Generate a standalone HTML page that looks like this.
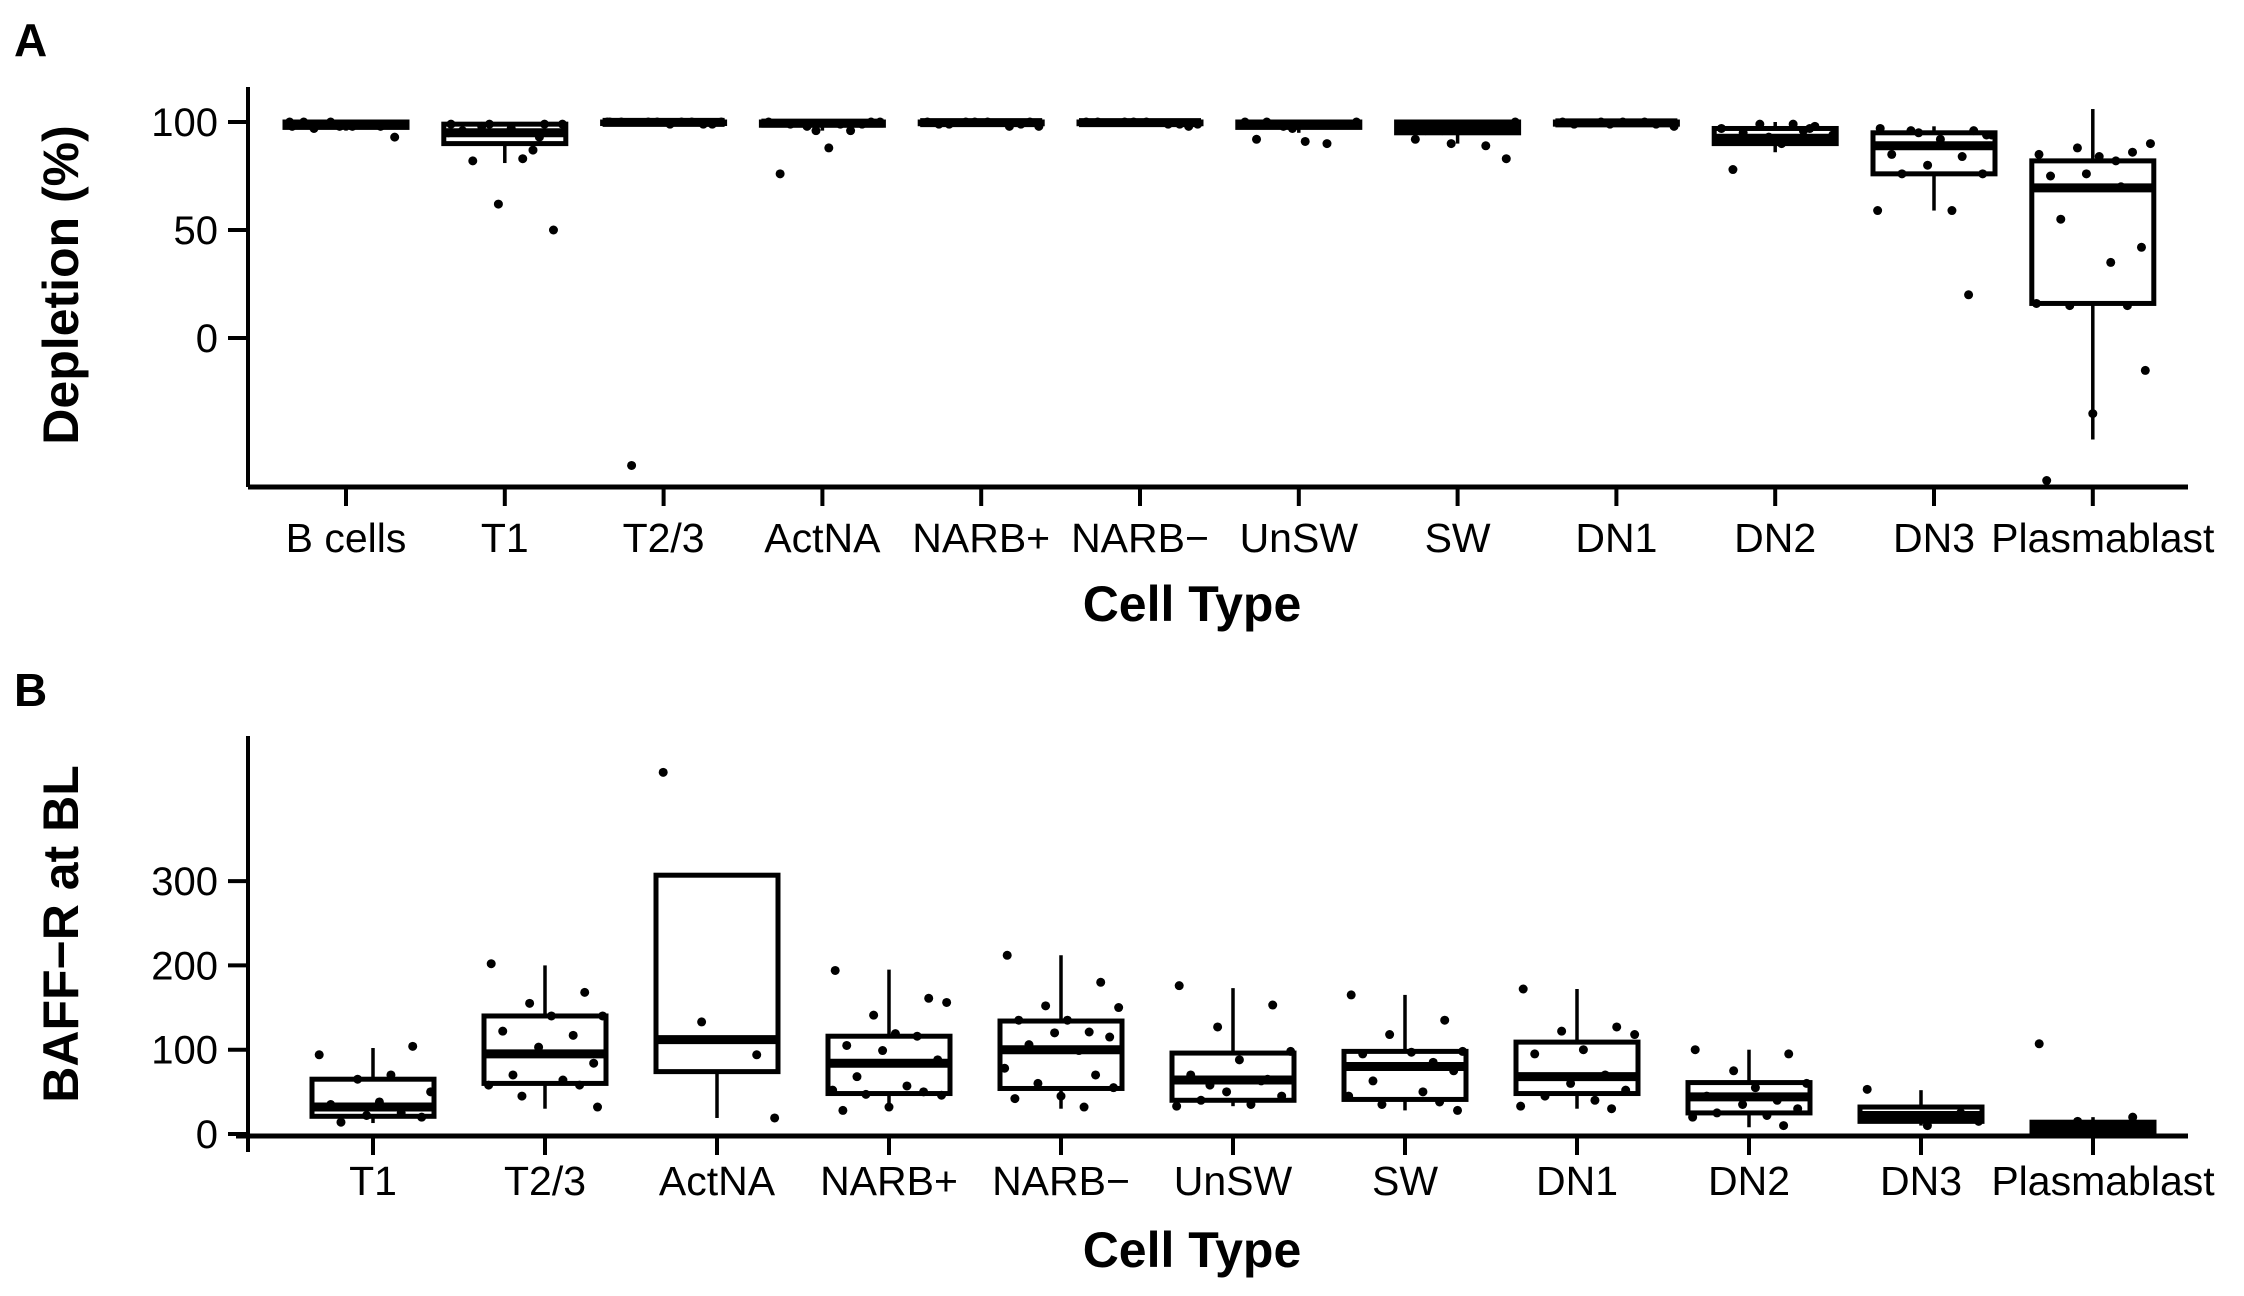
<!DOCTYPE html>
<html><head><meta charset="utf-8">
<style>
html,body{margin:0;padding:0;background:#fff;}
svg{display:block;font-family:"Liberation Sans",Arial,sans-serif;}
</style></head>
<body>
<svg id="chart" width="2244" height="1296" viewBox="0 0 2244 1296" xmlns="http://www.w3.org/2000/svg">
<text x="14" y="56" font-size="46" font-weight="bold">A</text>
<text x="14" y="706" font-size="46" font-weight="bold">B</text>
<g id="pa"></g>
<g id="pb"></g>
</svg>
<script>
const NS="http://www.w3.org/2000/svg";
// ---------- Panel A data ----------
const catsA=["B cells","T1","T2/3","ActNA","NARB+","NARB\u2212","UnSW","SW","DN1","DN2","DN3","Plasmablast"];
const ticksA=[0,50,100];
const q1A=[97.5,90,99.3,98.5,99.2,99.2,97.5,95,99,90,76,16];
const medA=[99,95,99.8,99.5,99.7,99.7,99,97,99.6,92.5,89,69.5];
const q3A=[100,99,100,100,100,100,100,100,100,97,95,82];
const loA=[96,81,99,96,98.5,98.5,95,90,98.5,86,59,-47];
const hiA=[100,100,100,100,100,100,100,100,100,100,98,106];
const ptsA=[
 [98,99,100,99,98,100,99,98,93,97,99,100,98,99],
 [99,99,99,99,97,96,87,62,50,82,83,95,93,98],
 [100,99,100,100,99,100,100,100,99,-59,100,100],
 [100,99,98,100,88,76,96,96,100,99,99],
 [100,99,100,98,100,99,98,100,100,99],
 [100,99,100,99,100,100,99,100,98],
 [100,99,98,100,91,92,90,97,99,100],
 [99,98,96,100,97,92,89,90,83,96,99],
 [100,99,100,98,100,99,100,99],
 [97,98,99,94,90,78,96,93,91,95,99,92,97],
 [97,96,95,94,92,85,84,80,76,76,59,59,20,96,94],
 [85,86,88,90,84,75,70,76,42,55,35,16,15,15,-15,-35,-66,82]
];
// ---------- Panel B data ----------
const catsB=["T1","T2/3","ActNA","NARB+","NARB\u2212","UnSW","SW","DN1","DN2","DN3","Plasmablast"];
const ticksB=[0,100,200,300];
const q1B=[21,60,74,48,54,40,41,48,25,15,3];
const medB=[32,95,112,84,100,64,80,68,44,22,8];
const q3B=[65,140,307,116,134,96,98,109,61,32,14];
const loB=[13,30,19,28,30,33,28,30,8,10,1];
const hiB=[102,200,307,195,212,173,165,172,100,52,20];
const ptsB=[
 [94,104,65,50,38,35,25,22,20,14,70],
 [202,168,155,140,140,122,117,103,84,70,64,58,58,45,32],
 [429,94,133,19],
 [194,161,141,156,119,105,116,99,88,68,57,52,50,47,46,32,28],
 [212,180,152,150,135,135,121,120,115,106,99,78,70,60,55,45,42,32],
 [176,153,127,98,88,70,63,50,45,40,35,33,65,58],
 [165,135,118,98,97,95,85,80,75,63,50,45,38,35,28],
 [172,127,122,118,100,95,70,60,52,45,40,33,30],
 [100,95,75,60,55,45,40,35,30,25,22,20,10],
 [53,25,20,15,10],
 [107,20,15,10,8,6,5,4,3]
];
const jit=[-0.42,0.31,-0.12,0.45,0.05,-0.33,0.22,-0.05,0.38,-0.25,0.14,-0.44,0.27,-0.18,0.41,0.0,-0.36,0.18];

function el(tag,attrs,parent){const e=document.createElementNS(NS,tag);for(const k in attrs)e.setAttribute(k,attrs[k]);parent.appendChild(e);return e;}

function panel(g,cfg){
  const {cats,ticks,q1,med,q3,lo,hi,pts,x0,dx,yScale,axisX,axisTop,axisY,axisRight,yOver,labY,titleY,yTitle,yTitleY,tag}=cfg;
  const xs=i=>x0+i*dx;
  const bw=122;
  let a=el('line',{x1:axisX,y1:axisTop,x2:axisX,y2:axisY+yOver,stroke:'#000','stroke-width':4},g);
  
  a=el('line',{x1:axisX-(yOver?12:0),y1:axisY,x2:axisRight,y2:axisY,stroke:'#000','stroke-width':5},g);
  
  ticks.forEach(t=>{
    const y=yScale(t);
    const l=el('line',{x1:axisX-20,y1:y,x2:axisX,y2:y,stroke:'#000','stroke-width':4},g);
    
    const tx=el('text',{x:axisX-30,y:y+14,'font-size':40,'text-anchor':'end'},g);
    tx.textContent=t;
    
  });
  cats.forEach((c,i)=>{
    const x=xs(i);
    const l=el('line',{x1:x,y1:axisY,x2:x,y2:axisY+19,stroke:'#000','stroke-width':4},g);
    
    const lx=(c==='Plasmablast')?x+10:x;
    const tx=el('text',{x:lx,y:labY,'font-size':41,'text-anchor':'middle'},g);
    tx.textContent=c;
    
    const w1=el('line',{x1:x,y1:yScale(q3[i]),x2:x,y2:yScale(hi[i]),stroke:'#000','stroke-width':3.5},g);
    
    const w2=el('line',{x1:x,y1:yScale(q1[i]),x2:x,y2:yScale(lo[i]),stroke:'#000','stroke-width':3.5},g);
    
    const yt=yScale(q3[i]),yb=yScale(q1[i]);
    const r=el('rect',{x:x-bw/2,y:yt,width:bw,height:Math.max(yb-yt,1),fill:'#fff',stroke:'#000','stroke-width':5},g);
    
    const m=el('line',{x1:x-bw/2,y1:yScale(med[i]),x2:x+bw/2,y2:yScale(med[i]),stroke:'#000','stroke-width':9},g);
    
    pts[i].forEach((v,j)=>{
      const p=el('circle',{cx:x+jit[j%jit.length]*bw*1.05,cy:yScale(v),r:4.5,fill:'#000'},g);
      
    });
  });
  const t=el('text',{x:1192,y:titleY,'font-size':50,'font-weight':'bold','text-anchor':'middle'},g);
  t.textContent='Cell Type';
  
  const yt=el('text',{x:0,y:0,'font-size':50,'font-weight':'bold','text-anchor':'middle',transform:`translate(78,${yTitleY}) rotate(-90)`},g);
  yt.textContent=yTitle;
  
}

panel(document.getElementById('pa'),{
  cats:catsA,ticks:ticksA,q1:q1A,med:medA,q3:q3A,lo:loA,hi:hiA,pts:ptsA,
  x0:346,dx:158.8,yScale:v=>338-v*2.16,axisX:248,axisTop:87,axisY:487,axisRight:2188,yOver:0,
  labY:552,titleY:621,yTitle:'Depletion (%)',yTitleY:285,tag:'a'});
panel(document.getElementById('pb'),{
  cats:catsB,ticks:ticksB,q1:q1B,med:medB,q3:q3B,lo:loB,hi:hiB,pts:ptsB,
  x0:373,dx:172,yScale:v=>1134-v*0.843,axisX:248,axisTop:736,axisY:1136,axisRight:2188,yOver:16,
  labY:1195,titleY:1267,yTitle:'BAFF\u2212R at BL',yTitleY:934,tag:'b'});
</script>
</body></html>
